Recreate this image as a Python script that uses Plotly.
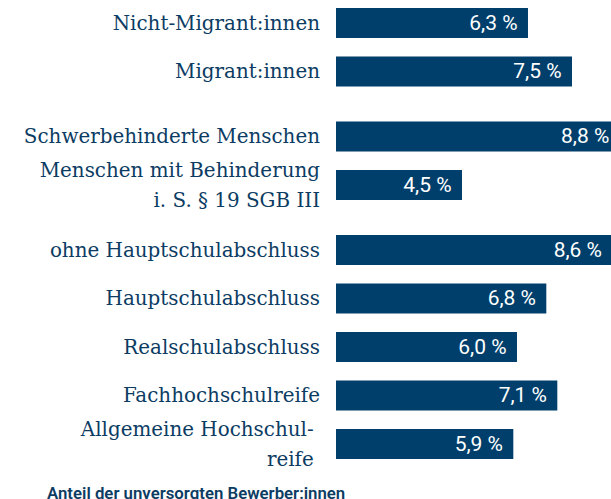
import plotly.graph_objects as go

categories = [
    "Nicht-Migrant:innen",
    "Migrant:innen",
    "Schwerbehinderte Menschen",
    "Menschen mit Behinderung<br>i. S. § 19 SGB III",
    "ohne Hauptschulabschluss",
    "Hauptschulabschluss",
    "Realschulabschluss",
    "Fachhochschulreife",
    "Allgemeine Hochschul-\u00a0<br>reife\u00a0",
]
values = [6.3, 7.5, 8.8, 4.5, 8.6, 6.8, 6.0, 7.1, 5.9]
groups = [0, 0, 1, 1, 2, 2, 2, 2, 2]
value_labels = ["6,3 %", "7,5 %", "8,8 %", "4,5 %", "8,6 %", "6,8 %", "6,0 %", "7,1 %", "5,9 %"]
axis_title = "Anteil der unversorgten Bewerber:innen"

BAR = "#003f6b"
TXT = "#0c3c63"
GAP = 0.34          # extra space between groups (in bar-slot units)
LINE_STEP = 0.62    # spacing of wrapped label lines (in bar-slot units)

W, H = 611, 499
PLOT_L, PLOT_B = 336, 29

ypos = [i + GAP * g for i, g in enumerate(groups)]

# tick labels: wrapped labels get one tick per line
tickvals, ticktext = [], []
for yp, cat in zip(ypos, categories):
    lines = cat.split("<br>")
    n = len(lines)
    for k, line in enumerate(lines):
        tickvals.append(yp + (k - (n - 1) / 2) * LINE_STEP)
        ticktext.append(line)

fig = go.Figure()
fig.add_trace(go.Bar(
    x=values,
    y=ypos,
    orientation="h",
    width=0.62,
    marker=dict(color=BAR, line=dict(width=0)),
    text=[t + "\u00a0\u200a" for t in value_labels],
    textposition="inside",
    insidetextanchor="end",
    textfont=dict(family="Roboto", size=21, color="white"),
    cliponaxis=True,
    hoverinfo="skip",
))

fig.update_layout(
    width=W,
    height=H,
    margin=dict(l=PLOT_L, r=0, t=0, b=PLOT_B, pad=0),
    paper_bgcolor="white",
    plot_bgcolor="white",
    showlegend=False,
    xaxis=dict(
        range=[1.064, 8.564],
        visible=False,
        fixedrange=True,
    ),
    yaxis=dict(
        range=[9.216, -0.474],
        tickmode="array",
        tickvals=tickvals,
        ticktext=ticktext,
        tickfont=dict(family="DejaVu Serif", size=19.9, color=TXT),
        showgrid=False,
        zeroline=False,
        showline=False,
        ticks="",
        ticklabelstandoff=15,
        fixedrange=True,
    ),
    annotations=[dict(
        text=axis_title,
        xref="paper", yref="paper",
        x=(45 - PLOT_L) / (W - PLOT_L), y=0,
        xanchor="left", yanchor="top",
        yshift=-11,
        showarrow=False,
        font=dict(family="Roboto", size=16.8, color=TXT, weight=600),
    )],
)

fig.write_html(
    "out.html",
    config={"displayModeBar": False, "staticPlot": True},
    post_script="document.body.style.margin='0';document.body.style.overflow='hidden';",
)
